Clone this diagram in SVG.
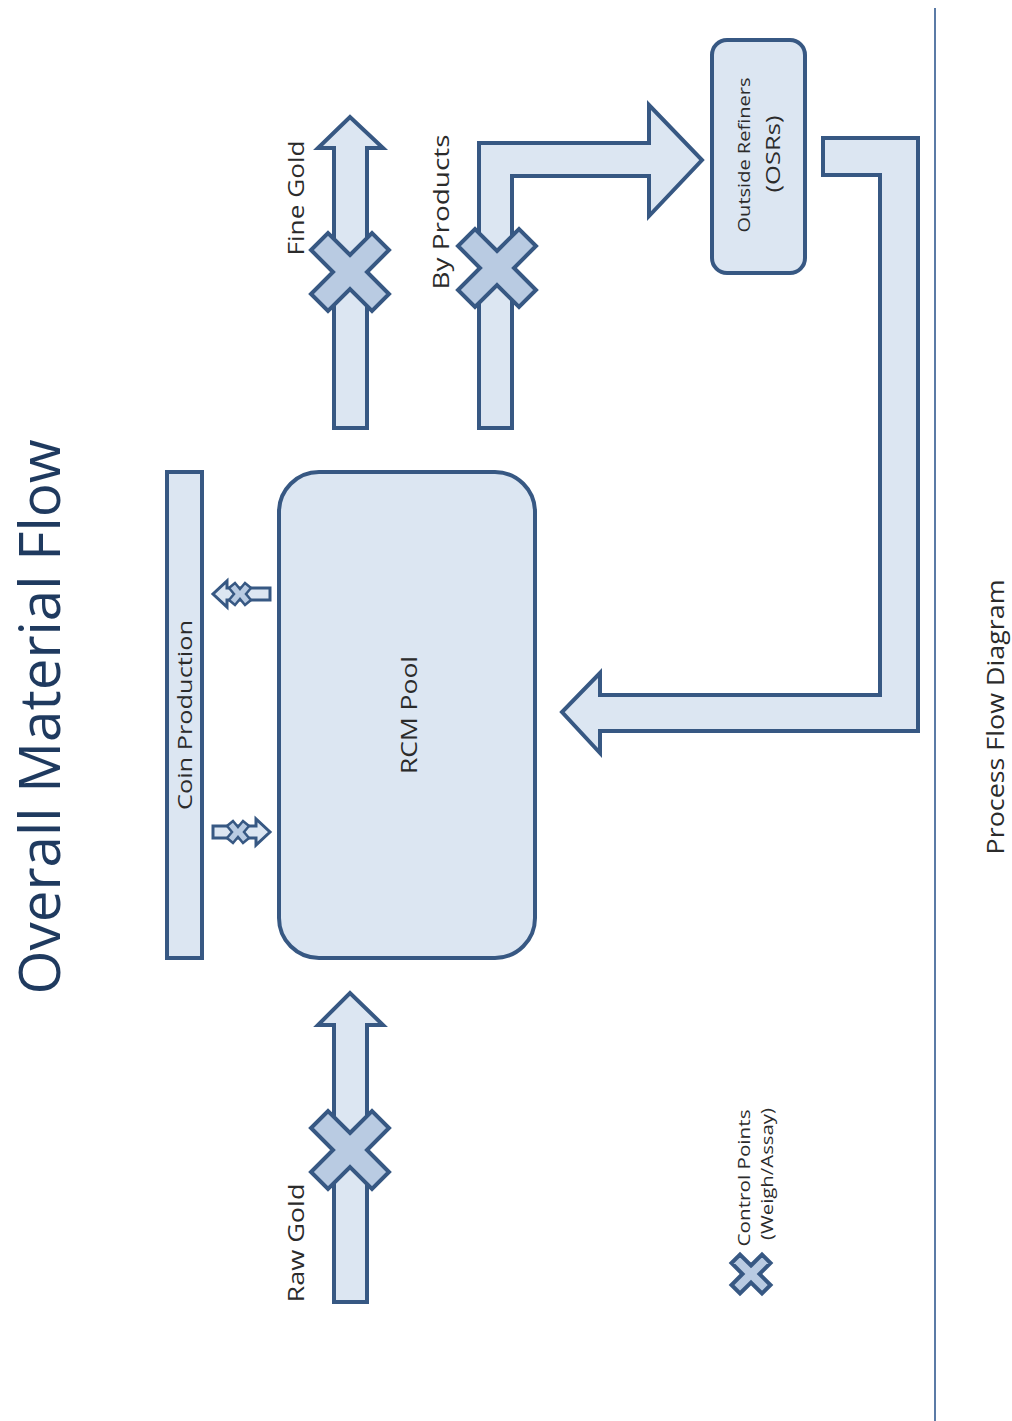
<svg xmlns="http://www.w3.org/2000/svg" width="1012" height="1421" viewBox="0 0 1012 1421">
  <defs>
    <style>
      .shape { fill: #dce6f2; stroke: #375883; stroke-width: 4; stroke-linejoin: miter; }
      .cross { fill: #b9cbe2; stroke: #375883; stroke-width: 4; stroke-linejoin: miter; }
      .small { fill: #dce6f2; stroke: #375883; stroke-width: 3; }
      .smallx { fill: #b9cbe2; stroke: #375883; stroke-width: 2.5; }
      .lbl { font-family: "Open Sans", "Liberation Sans", sans-serif; fill: #2b2b2b; text-anchor: middle; }
      .title { font-family: "Open Sans", "Liberation Sans", sans-serif; fill: #1f3a5f; text-anchor: middle; }
    </style>
    <!-- control point marker: an X centred on the origin -->
    <polygon id="xmark" points="0,-17 22,-39 39,-22 17,0 39,22 22,39 0,17 -22,39 -39,22 -17,0 -39,-22 -22,-39"/>
  </defs>

  <rect width="1012" height="1421" fill="#ffffff"/>

  <!-- title -->
  <text class="title" font-size="56" transform="translate(60,717) rotate(-90)" textLength="555" lengthAdjust="spacingAndGlyphs">Overall Material Flow</text>

  <!-- page divider and footer -->
  <line x1="935" y1="8" x2="935" y2="1421" stroke="#5b7ba6" stroke-width="2"/>
  <text class="lbl" font-size="24" transform="translate(1004,717) rotate(-90)" textLength="275" lengthAdjust="spacingAndGlyphs">Process Flow Diagram</text>

  <!-- connectors -->
  <g id="connectors">
    <!-- raw gold into pool -->
    <g id="raw-gold-arrow">
      <polygon class="shape" points="334,1302 367,1302 367,1025 383,1025 350,993 318,1025 334,1025"/>
      <use href="#xmark" class="cross" transform="translate(350,1150)"/>
      <text class="lbl" font-size="22" transform="translate(304,1243) rotate(-90)" textLength="119" lengthAdjust="spacingAndGlyphs">Raw Gold</text>
    </g>
    <!-- fine gold out of pool -->
    <g id="fine-gold-arrow">
      <polygon class="shape" points="334,428 367,428 367,148 383,148 350,117 318,148 334,148"/>
      <use href="#xmark" class="cross" transform="translate(350,272)"/>
      <text class="lbl" font-size="22" transform="translate(304,198) rotate(-90)" textLength="115" lengthAdjust="spacingAndGlyphs">Fine Gold</text>
    </g>
    <!-- by products to outside refiners -->
    <g id="by-products-arrow">
      <polygon class="shape" points="479,428 512,428 512,176 649,176 649,216 702,160 649,105 649,143 479,143"/>
      <use href="#xmark" class="cross" transform="translate(497,268)"/>
      <text class="lbl" font-size="22" transform="translate(449,212) rotate(-90)" textLength="155" lengthAdjust="spacingAndGlyphs">By Products</text>
    </g>
    <!-- refined material back to pool -->
    <g id="return-arrow">
      <polygon class="shape" points="823,138 918,138 918,731 600,731 600,753 562,712 600,673 600,695 880,695 880,175 823,175"/>
    </g>
    <!-- pool to coin production -->
    <g id="to-coin-arrow">
      <polygon class="small" points="270,588 270,600 227,600 227,607 213,594 227,581 227,588"/>
      <polygon class="smallx" points="240,589 245,583 251,588 246,594 251,600 245,605 240,599 235,605 229,600 234,594 229,588 235,583"/>
    </g>
    <!-- coin production back to pool -->
    <g id="from-coin-arrow">
      <polygon class="small" points="213,826 213,838 256,838 256,845 270,832 256,819 256,826"/>
      <polygon class="smallx" points="238,827 243,821 249,826 244,832 249,838 243,843 238,837 233,843 227,838 232,832 227,826 233,821"/>
    </g>
  </g>

  <!-- nodes -->
  <g id="coin-production">
    <rect class="shape" x="167" y="472" width="35" height="486"/>
    <text class="lbl" font-size="20" transform="translate(192,715) rotate(-90)" textLength="190" lengthAdjust="spacingAndGlyphs">Coin Production</text>
  </g>

  <g id="rcm-pool">
    <rect class="shape" x="279" y="472" width="256" height="486" rx="40" ry="40"/>
    <text class="lbl" font-size="22" transform="translate(417,715) rotate(-90)" textLength="118" lengthAdjust="spacingAndGlyphs">RCM Pool</text>
  </g>

  <g id="outside-refiners">
    <rect class="shape" x="712" y="40" width="93" height="233" rx="15" ry="15"/>
    <text class="lbl" font-size="17" transform="translate(750,155) rotate(-90)" textLength="155" lengthAdjust="spacingAndGlyphs">Outside Refiners</text>
    <text class="lbl" font-size="20" transform="translate(780,154) rotate(-90)" textLength="77" lengthAdjust="spacingAndGlyphs">(OSRs)</text>
  </g>

  <!-- legend -->
  <g id="legend">
    <use href="#xmark" class="cross" transform="translate(751,1274) scale(0.5)" style="stroke-width:8"/>
    <text class="lbl" font-size="17" transform="translate(750,1178) rotate(-90)" textLength="137" lengthAdjust="spacingAndGlyphs">Control Points</text>
    <text class="lbl" font-size="17" transform="translate(773,1174) rotate(-90)" textLength="132" lengthAdjust="spacingAndGlyphs">(Weigh/Assay)</text>
  </g>
</svg>
